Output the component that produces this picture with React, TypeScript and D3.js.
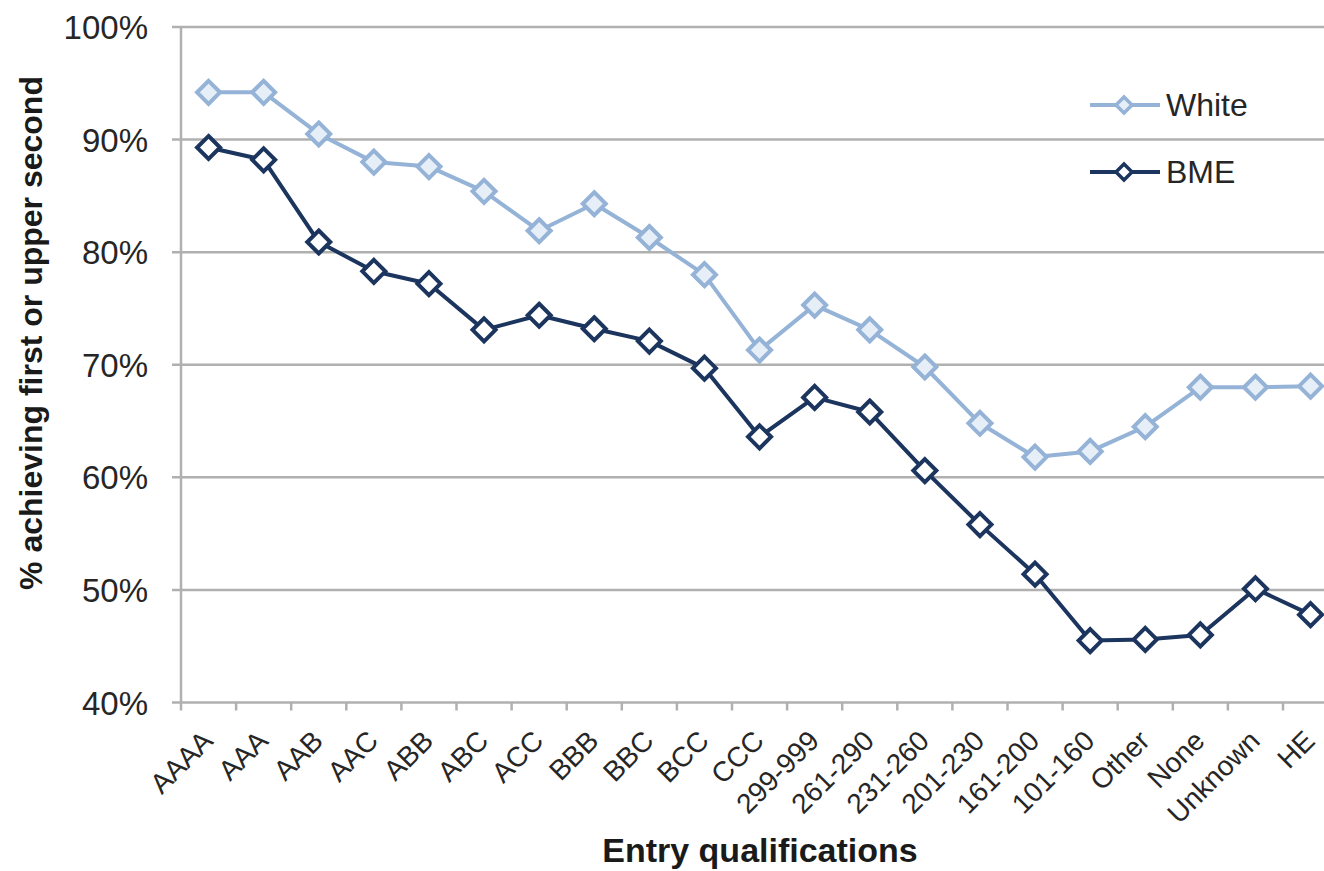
import React, { useEffect, useRef } from "react";
import * as d3 from "d3";

const categories = [
  "AAAA", "AAA", "AAB", "AAC", "ABB", "ABC", "ACC", "BBB", "BBC", "BCC", "CCC",
  "299-999", "261-290", "231-260", "201-230", "161-200", "101-160",
  "Other", "None", "Unknown", "HE",
];

const whiteValues = [
  94.2, 94.2, 90.5, 88.0, 87.6, 85.4, 81.9, 84.3, 81.3, 78.0, 71.3,
  75.3, 73.1, 69.8, 64.8, 61.8, 62.3, 64.5, 68.0, 68.0, 68.1,
];

const bmeValues = [
  89.3, 88.2, 80.9, 78.3, 77.2, 73.1, 74.4, 73.2, 72.1, 69.7, 63.6,
  67.1, 65.8, 60.6, 55.8, 51.4, 45.5, 45.6, 46.0, 50.1, 47.8,
];

const yTicks = [40, 50, 60, 70, 80, 90, 100];

const series = [
  { name: "White", values: whiteValues, stroke: "#95b3d7", fill: "#e6eef8" },
  { name: "BME", values: bmeValues, stroke: "#1c355e", fill: "#ffffff" },
];

const W = 1324;
const H = 871;
const FONT = "'Liberation Sans', Arial, sans-serif";

const diamond = (r: number) => `M0,${-r}L${r},0L0,${r}L${-r},0Z`;

export default function App() {
  const svgRef = useRef<SVGSVGElement | null>(null);

  useEffect(() => {
    if (!svgRef.current) return;
    const svg = d3.select(svgRef.current);
    svg.selectAll("*").remove();

    const left = 181;
    const top = 27;
    const bottom = 702.5;
    const step = 55.1;

    const x = d3
      .scaleBand<string>()
      .domain(categories)
      .range([left, left + step * categories.length])
      .padding(0);
    const y = d3.scaleLinear().domain([40, 100]).range([bottom, top]);

    const grid = "#b0b0b0";

    // gridlines + y tick marks
    svg
      .append("g")
      .selectAll("line")
      .data(yTicks)
      .join("line")
      .attr("x1", left - 9)
      .attr("x2", left + step * categories.length)
      .attr("y1", (d) => y(d))
      .attr("y2", (d) => y(d))
      .attr("stroke", grid)
      .attr("stroke-width", 2.5);

    // y axis line
    svg
      .append("line")
      .attr("x1", left)
      .attr("x2", left)
      .attr("y1", top)
      .attr("y2", bottom)
      .attr("stroke", grid)
      .attr("stroke-width", 2.5);

    // x tick marks at category boundaries
    const bounds = d3.range(categories.length + 1).map((i) => left + i * step);
    svg
      .append("g")
      .selectAll("line")
      .data(bounds)
      .join("line")
      .attr("x1", (d) => d)
      .attr("x2", (d) => d)
      .attr("y1", bottom)
      .attr("y2", bottom + 8)
      .attr("stroke", grid)
      .attr("stroke-width", 2.5);

    // y tick labels
    svg
      .append("g")
      .selectAll("text")
      .data(yTicks)
      .join("text")
      .attr("x", 148)
      .attr("y", (d) => y(d) + 12)
      .attr("text-anchor", "end")
      .attr("font-family", FONT)
      .attr("font-size", 33)
      .attr("fill", "#262626")
      .text((d) => `${d}%`);

    // x tick labels
    svg
      .append("g")
      .selectAll("text")
      .data(categories)
      .join("text")
      .attr(
        "transform",
        (d) => `translate(${(x(d) ?? 0) + x.bandwidth() / 2 + 6},${bottom + 40}) rotate(-45)`
      )
      .attr("text-anchor", "end")
      .attr("font-family", FONT)
      .attr("font-size", 28)
      .attr("fill", "#262626")
      .text((d) => d);

    // axis titles
    svg
      .append("text")
      .attr("x", 760)
      .attr("y", 862)
      .attr("text-anchor", "middle")
      .attr("font-family", FONT)
      .attr("font-size", 34)
      .attr("font-weight", 700)
      .attr("fill", "#1a1a1a")
      .text("Entry qualifications");

    svg
      .append("text")
      .attr("transform", `translate(42,333) rotate(-90)`)
      .attr("text-anchor", "middle")
      .attr("font-family", FONT)
      .attr("font-size", 32)
      .attr("font-weight", 700)
      .attr("fill", "#1a1a1a")
      .text("% achieving first or upper second");

    const line = d3
      .line<number>()
      .x((_, i) => (x(categories[i]) ?? 0) + x.bandwidth() / 2)
      .y((d) => y(d));

    series.forEach((s) => {
      const g = svg.append("g");
      g.append("path")
        .attr("d", line(s.values) as string)
        .attr("fill", "none")
        .attr("stroke", s.stroke)
        .attr("stroke-width", 4)
        .attr("stroke-linejoin", "round");
      g.selectAll("path.mk")
        .data(s.values)
        .join("path")
        .attr("class", "mk")
        .attr(
          "transform",
          (d, i) => `translate(${(x(categories[i]) ?? 0) + x.bandwidth() / 2},${y(d)})`
        )
        .attr("d", diamond(11.5))
        .attr("fill", s.fill)
        .attr("stroke", s.stroke)
        .attr("stroke-width", 4);
    });

    // legend
    const legend = svg.append("g");
    series.forEach((s, i) => {
      const ly = 105 + i * 67;
      legend
        .append("line")
        .attr("x1", 1090)
        .attr("x2", 1160)
        .attr("y1", ly)
        .attr("y2", ly)
        .attr("stroke", s.stroke)
        .attr("stroke-width", 4);
      legend
        .append("path")
        .attr("transform", `translate(1124,${ly})`)
        .attr("d", diamond(8))
        .attr("fill", s.fill)
        .attr("stroke", s.stroke)
        .attr("stroke-width", 3.5);
      legend
        .append("text")
        .attr("x", 1166)
        .attr("y", ly + 11)
        .attr("font-family", FONT)
        .attr("font-size", 32)
        .attr("fill", "#262626")
        .text(s.name);
    });
  }, []);

  return (
    <svg
      ref={svgRef}
      width={W}
      height={H}
      style={{ position: "absolute", left: 0, top: 0, background: "#fff" }}
    />
  );
}
